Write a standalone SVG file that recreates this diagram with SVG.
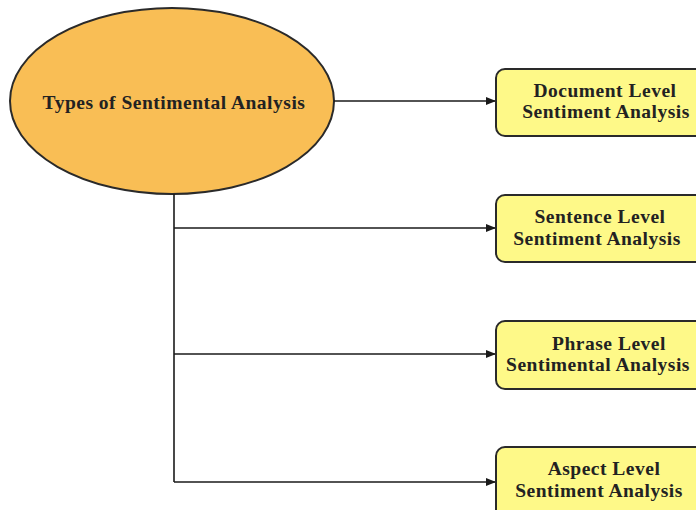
<svg xmlns="http://www.w3.org/2000/svg" width="696" height="510" viewBox="0 0 696 510">
<defs>
<marker id="ah" markerWidth="10" markerHeight="8" refX="9" refY="4" orient="auto" markerUnits="userSpaceOnUse">
<path d="M0,0 L10,4 L0,8 Z" fill="#1a1a1a"/>
</marker>
<style>
.t{font-family:"Liberation Serif","Times New Roman",serif;font-weight:bold;font-size:19.5px;letter-spacing:0.5px;fill:#222;text-anchor:middle}
.box{fill:#FEF988;stroke:#2a2a2a;stroke-width:2}
.ln{fill:none;stroke:#1a1a1a;stroke-width:1.6}
</style>
</defs>
<rect width="696" height="510" fill="#fff"/>
<g id="root">
<ellipse cx="172" cy="101" rx="162" ry="93" fill="#F9BE55" stroke="#2a2a2a" stroke-width="2"/>
<text class="t" x="174" y="109">Types of Sentimental Analysis</text>
</g>
<g id="connectors">
<path class="ln" d="M334,101 H495" marker-end="url(#ah)"/>
<path class="ln" d="M174,194 V482"/>
<path class="ln" d="M174,228 H495" marker-end="url(#ah)"/>
<path class="ln" d="M174,354 H495" marker-end="url(#ah)"/>
<path class="ln" d="M174,482 H495" marker-end="url(#ah)"/>
</g>
<g id="doc">
<rect class="box" x="496" y="69" width="230" height="67" rx="9"/>
<text class="t" x="605" y="97">Document Level</text>
<text class="t" x="606" y="118">Sentiment Analysis</text>
</g>
<g id="sentence">
<rect class="box" x="496" y="195" width="230" height="67" rx="9"/>
<text class="t" x="600" y="223">Sentence Level</text>
<text class="t" x="597" y="245">Sentiment Analysis</text>
</g>
<g id="phrase">
<rect class="box" x="496" y="321" width="230" height="68" rx="9"/>
<text class="t" x="609" y="350">Phrase Level</text>
<text class="t" x="598" y="371">Sentimental Analysis</text>
</g>
<g id="aspect">
<rect class="box" x="496" y="447" width="230" height="75" rx="9"/>
<text class="t" x="604" y="475">Aspect Level</text>
<text class="t" x="599" y="497">Sentiment Analysis</text>
</g>
</svg>
